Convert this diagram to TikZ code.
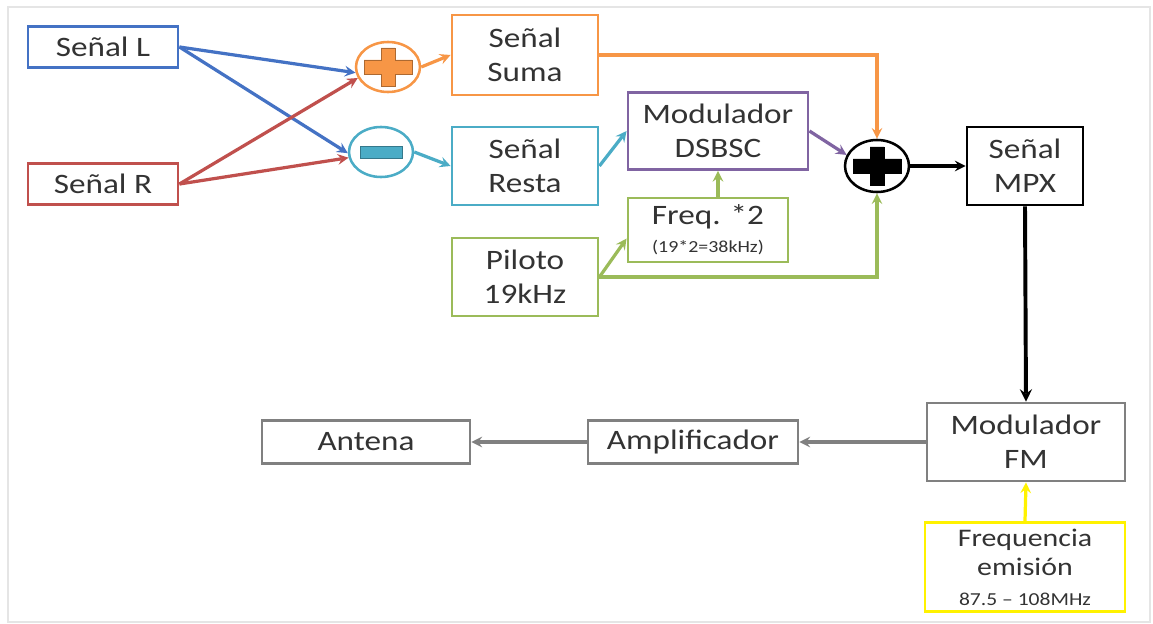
\documentclass[tikz,border=0pt]{standalone}
\usepackage{fontspec}
\setmainfont{Carlito}[FakeStretch=1.18]
\usepackage{xcolor}
\usepackage{tikz}
\usetikzlibrary{shapes.geometric, arrows, positioning}

\definecolor{lblue}{RGB}{68,114,196}
\definecolor{lred}{RGB}{192,80,77}
\definecolor{lorange}{RGB}{247,150,70}
\definecolor{lcyan}{RGB}{75,172,198}
\definecolor{lpurple}{RGB}{128,100,162}
\definecolor{lgreen}{RGB}{155,187,89}
\definecolor{lgray}{RGB}{128,128,128}
\definecolor{lyellow}{RGB}{255,242,0}

\begin{document}
\begin{tikzpicture}[
    x=0.025cm, y=-0.025cm,
    block/.style={rectangle, draw, line width=2pt, fill=white, text=black!80, align=center, inner sep=2pt, font=\fontsize{20}{24}\selectfont},
    summer/.style={ellipse, draw, line width=1.8pt, fill=white, minimum width=1.6cm, minimum height=1.25cm},
    plussign/.style={path picture={\fill[#1, draw=#1!70!black, line width=0.4pt, shift={(path picture bounding box.center)}] (-24,-7) -- (-7,-7) -- (-7,-19) -- (7,-19) -- (7,-7) -- (24,-7) -- (24,7) -- (7,7) -- (7,19) -- (-7,19) -- (-7,7) -- (-24,7) -- cycle;}},
    minussign/.style={path picture={\fill[#1, draw=#1!70!black, line width=0.4pt, shift={(path picture bounding box.center)}] (-21,-6) rectangle (21,6);}},
    arrow/.style={line width=2.3pt,->,>=stealth}
]
\useasboundingbox (0,0) rectangle (1153,624);
\draw[black!10, line width=1pt] (8,7) rectangle (1150,622);

% Inputs
\node[block, draw=lblue, minimum width=3.75cm, minimum height=1.025cm] (sigL) at (103,47) {Señal L};
\node[block, draw=lred, minimum width=3.75cm, minimum height=1.025cm] (sigR) at (103,184) {Señal R};

% Sum and difference
\node[summer, draw=lorange, plussign=lorange] (add) at (388,67) {};
\node[summer, draw=lcyan, minussign=lcyan] (sub) at (381,152) {};
\node[block, draw=lorange, minimum width=3.65cm, minimum height=2cm] (suma) at (525,55) {Señal\\Suma};
\node[block, draw=lcyan, minimum width=3.65cm, minimum height=1.95cm] (resta) at (525,166) {Señal\\Resta};

% Pilot and DSBSC
\node[block, draw=lpurple, minimum width=4.5cm, minimum height=1.925cm] (dsb) at (718,131) {Modulador\\DSBSC};
\node[block, draw=lgreen, minimum width=4cm, minimum height=1.6cm, font=\fontsize{20}{20}\selectfont] (freq) at (708,230) {Freq. *2\\{\fontsize{12}{14}\selectfont (19*2=38kHz)}};
\node[block, draw=lgreen, minimum width=3.65cm, minimum height=1.95cm] (piloto) at (525,277) {Piloto\\19kHz};

% MPX
\node[summer, draw=black, plussign=black, minimum height=1.3cm] (mpxadd) at (877,166) {};
\node[block, draw=black, minimum width=2.9cm, minimum height=1.95cm] (mpx) at (1025,166) {Señal\\MPX};

% FM chain
\node[block, draw=lgray, minimum width=4.95cm, minimum height=1.95cm] (fm) at (1026,442) {Modulador\\FM};
\node[block, draw=lgray, minimum width=5.25cm, minimum height=1.075cm] (amp) at (693,442) {Amplificador};
\node[block, draw=lgray, minimum width=5.2cm, minimum height=1.075cm] (antena) at (366,442) {Antena};
\node[block, draw=lyellow, minimum width=5cm, minimum height=2.225cm, font=\fontsize{18}{21}\selectfont] (emis) at (1025,567) {Frequencia\\emisión\\{\fontsize{13}{15}\selectfont 87.5 – 108MHz}};

% Connections
\draw[arrow, lblue] (sigL.east) -- (add.190);
\draw[arrow, lblue] (sigL.east) -- (sub.182);
\draw[arrow, lred] (sigR.east) -- (add.200);
\draw[arrow, lred] (sigR.east) -- (sub.190);
\draw[arrow, lorange] (add.east) -- (suma.west);
\draw[arrow, lcyan] (sub.east) -- (resta.west);
\draw[arrow, lorange] (suma.east) -| (mpxadd.north);
\draw[arrow, lcyan] (resta.east) -- (dsb.west);
\draw[arrow, lpurple] (dsb.east) -- (mpxadd.160);
\draw[arrow, lgreen] (dsb.south |- freq.north) -- (dsb.south);
\draw[arrow, lgreen] (piloto.east) -- (freq.186);
\draw[arrow, lgreen] (piloto.east) -| (mpxadd.south);
\draw[arrow, black] (mpxadd.east) -- (mpx.west);
\draw[arrow, black, line width=2.8pt] (mpx.south) -- (fm.north);
\draw[arrow, lgray] (fm.west) -- (amp.east);
\draw[arrow, lgray] (amp.west) -- (antena.east);
\draw[arrow, lyellow] (emis.north) -- (fm.south);

\end{tikzpicture}
\end{document}
